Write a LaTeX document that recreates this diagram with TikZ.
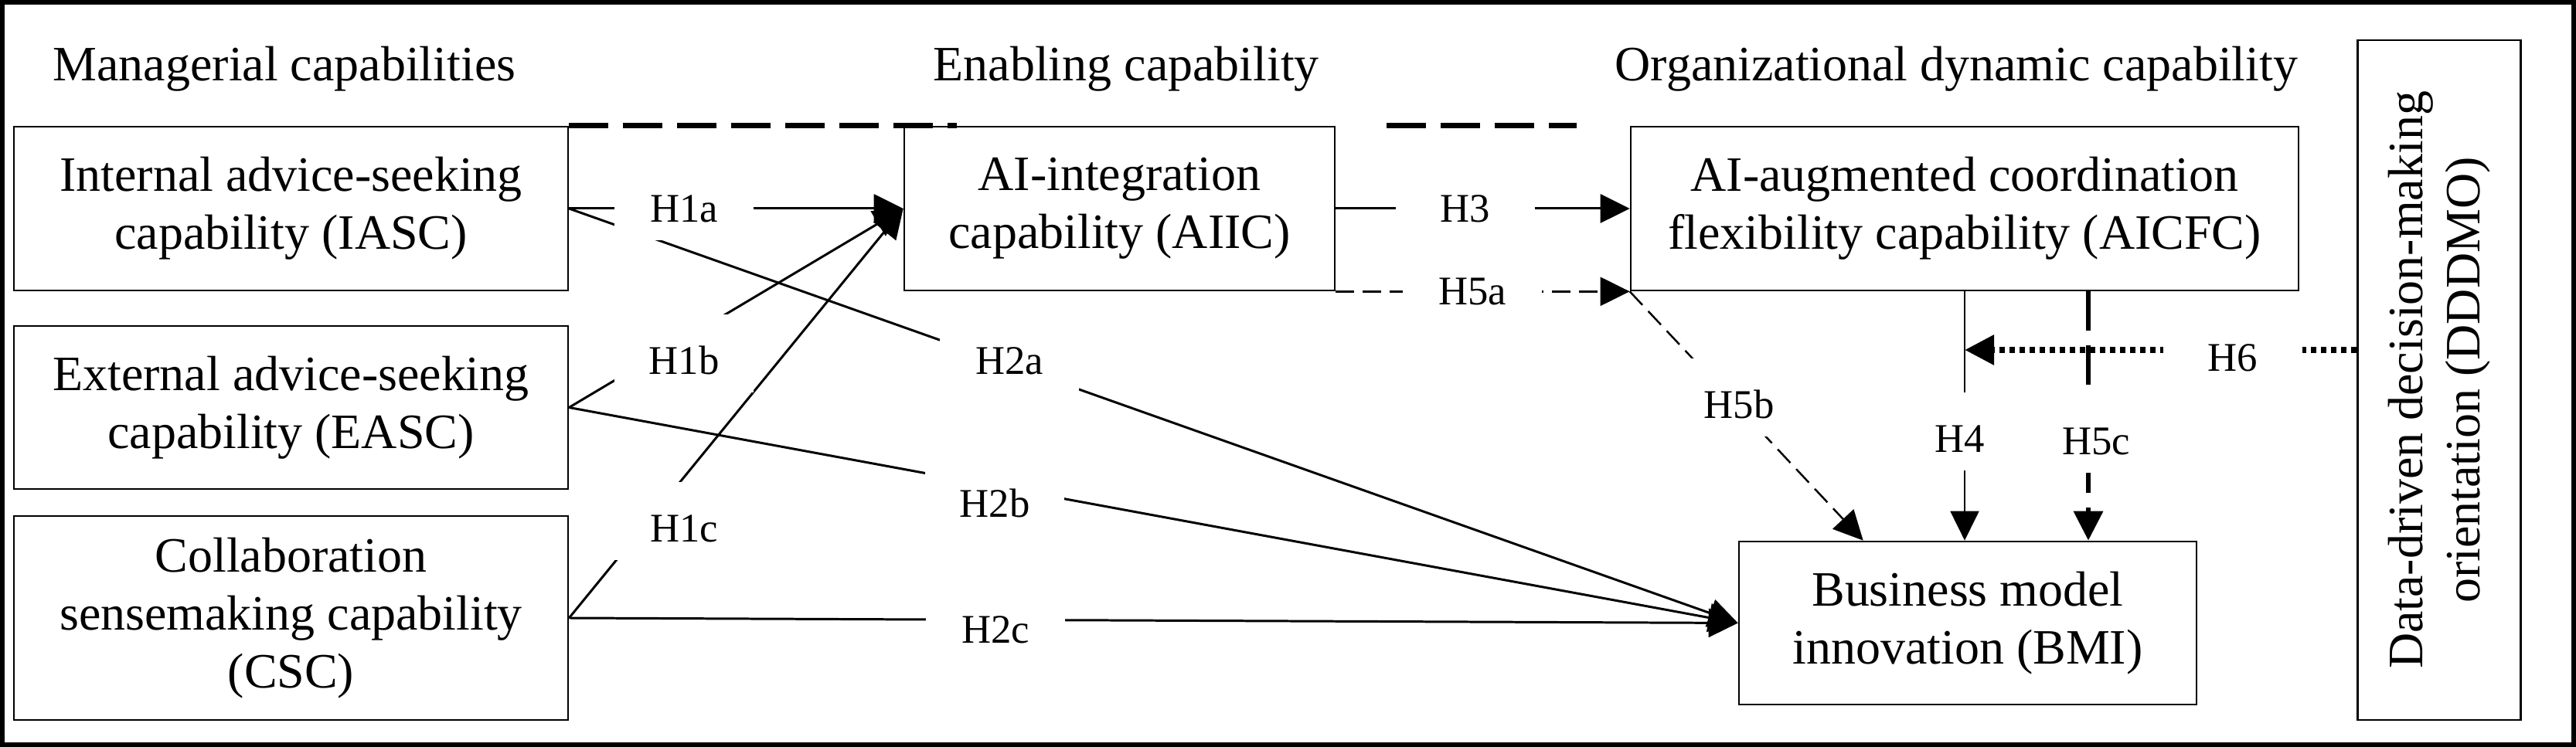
\documentclass[tikz,border=0pt]{standalone}
\usepackage{fontspec}
\setmainfont{Liberation Serif}
\usetikzlibrary{arrows.meta}

\begin{document}
\begin{tikzpicture}[>={Triangle[length=0.38cm,width=0.37cm]},
	capbox/.style={draw,line width=0.75pt,align=center,inner sep=0pt,font=\fontsize{18.2}{21.3}\selectfont},
	header/.style={anchor=base west,inner sep=0pt,font=\fontsize{18.2}{21.3}\selectfont},
	hlabel/.style={fill=white,anchor=base,minimum width=1.8cm,text height=0.55cm,text depth=0pt,inner xsep=0pt,inner ysep=0.23cm,font=\fontsize{15}{18}\selectfont},
	link/.style={->,line width=0.85pt},
	shortdash/.style={->,line width=0.7pt,dash pattern=on 0.24cm off 0.11cm},
	longdash/.style={line width=1.9pt,dash pattern=on 0.51cm off 0.19cm},
	dotlink/.style={->,line width=2.5pt,dash pattern=on 0.07cm off 0.06cm}]
	\useasboundingbox (0,0) rectangle (33.33,9.67);
	\draw[line width=1.6pt] (0.028,0.028) rectangle (33.302,9.642);
	\node[header] (mcap) at (0.68,8.62) {Managerial capabilities};
	\node[header] (ecap) at (12.07,8.62) {Enabling capability};
	\node[header] (ocap) at (20.89,8.62) {Organizational dynamic capability};
	\node[capbox,minimum width=7.17cm,minimum height=2.12cm] (IASC) at (3.765,6.97) {Internal advice-seeking\\capability (IASC)};
	\node[capbox,minimum width=7.17cm,minimum height=2.11cm] (EASC) at (3.765,4.395) {External advice-seeking\\capability (EASC)};
	\node[capbox,minimum width=7.17cm,minimum height=2.64cm] (CSC) at (3.765,1.67) {Collaboration\\sensemaking capability\\(CSC)};
	\node[capbox,minimum width=5.57cm,minimum height=2.12cm] (AIIC) at (14.485,6.97) {AI-integration\\capability (AIIC)};
	\node[capbox,minimum width=8.64cm,minimum height=2.12cm] (AICFC) at (25.42,6.97) {AI-augmented coordination\\flexibility capability (AICFC)};
	\node[capbox,minimum width=5.92cm,minimum height=2.11cm] (BMI) at (25.46,1.605) {Business model\\innovation (BMI)};
	\node[capbox,minimum width=2.11cm,minimum height=8.8cm] (DDDMO) at (31.56,4.75) {};
	\node[rotate=90,align=center,font=\fontsize{18.2}{21}\selectfont] (DDDMOtext) at (DDDMO.center) {Data-driven decision-making\\orientation (DDDMO)};
	\draw[longdash] (IASC.north east) -- ++(5.02,0);
	\draw[longdash] ([xshift=0.66cm]AIIC.north east) -- ++(2.46,0);
	\draw[link] (IASC.east) -- (AIIC.west);
	\draw[link] (EASC.east) -- (AIIC.west);
	\draw[link] (CSC.east) -- (AIIC.west);
	\draw[link] (IASC.east) -- (BMI.west);
	\draw[link] (EASC.east) -- (BMI.west);
	\draw[link] (CSC.east) -- (BMI.west);
	\draw[link] (AIIC.east) -- (AICFC.west);
	\draw[shortdash] (AIIC.south east) -- (AICFC.south west);
	\draw[shortdash] (AICFC.south west) -- ([xshift=1.62cm]BMI.north west);
	\draw[link,line width=0.55pt] (AICFC.south) -- (AICFC.south |- BMI.north);
	\coordinate (h5ctop) at ([xshift=1.6cm]AICFC.south);
	\draw[longdash,->] (h5ctop) -- (h5ctop |- BMI.north);
	\coordinate (h6start) at ([yshift=0.39cm]DDDMO.west);
	\draw[dotlink] (h6start) -- (h6start -| AICFC.south);
	\node[hlabel] (h1a) at (8.85,6.79) {H1a};
	\node[hlabel] (h1b) at (8.85,4.82) {H1b};
	\node[hlabel] (h1c) at (8.85,2.65) {H1c};
	\node[hlabel] (h2a) at (13.06,4.82) {H2a};
	\node[hlabel] (h2b) at (12.87,2.97) {H2b};
	\node[hlabel] (h2c) at (12.88,1.34) {H2c};
	\node[hlabel] (h3) at (18.96,6.79) {H3};
	\node[hlabel] (h5a) at (19.05,5.72) {H5a};
	\node[hlabel] (h5b) at (22.50,4.25) {H5b};
	\node[hlabel] (h4) at (25.36,3.81) {H4};
	\node[hlabel] (h5c) at (27.12,3.78) {H5c};
	\node[hlabel] (h6) at (28.89,4.86) {H6};
\end{tikzpicture}
\end{document}
